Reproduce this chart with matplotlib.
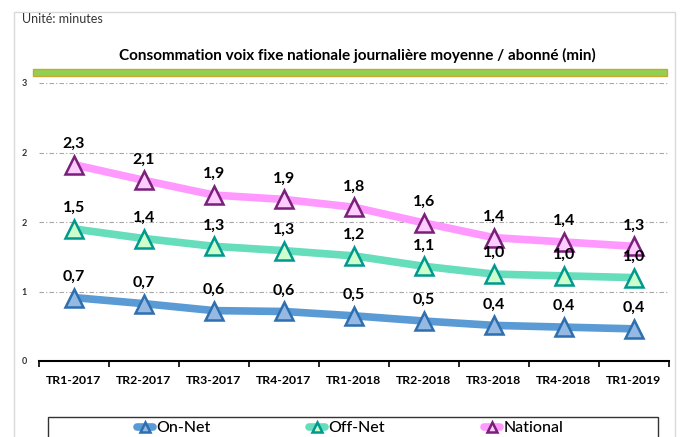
import numpy as np
import matplotlib
matplotlib.use("Agg")
import matplotlib.pyplot as plt
from matplotlib.patches import Rectangle

plt.rcParams['font.family'] = ['Lato', 'DejaVu Sans']

# =========================
# Data
# =========================
categories = ["TR1-2017", "TR2-2017", "TR3-2017", "TR4-2017", "TR1-2018",
              "TR2-2018", "TR3-2018", "TR4-2018", "TR1-2019"]
on_net = [0.73, 0.66, 0.58, 0.57, 0.52, 0.46, 0.41, 0.39, 0.37]
off_net = [1.52, 1.41, 1.32, 1.27, 1.21, 1.09, 1.00, 0.98, 0.96]
national = [2.26, 2.08, 1.91, 1.86, 1.77, 1.59, 1.42, 1.37, 1.32]
y_ticks = [0, 0.8, 1.6, 2.4, 3.2]

series = [
    ("On-Net", on_net, "#5B9BD5", "#95B9E3", "#2E6FB0"),
    ("Off-Net", off_net, "#66DDBB", "#CCFFCC", "#00998F"),
    ("National", national, "#FF99FF", "#FFCCFF", "#7A1F7A"),
]

W, H = 682, 437
fig = plt.figure(figsize=(W / 100, H / 100), dpi=100)

# outer frame, green banner, legend frame
fig.patches.append(Rectangle((14 / W, -0.05), 661 / W, 1 - 12 / H + 0.05,
                             transform=fig.transFigure, fill=False,
                             edgecolor="#D9D9D9", linewidth=1))
fig.patches.append(Rectangle((33 / W, 1 - 76 / H), 634 / W, 7 / H,
                             transform=fig.transFigure, facecolor="#92D050",
                             edgecolor="#C8A832", linewidth=1))
fig.patches.append(Rectangle((48 / W, -0.05), 610 / W, 1 - 417 / H + 0.05,
                             transform=fig.transFigure, fill=False,
                             edgecolor="#333333", linewidth=1))

fig.text(22 / W, 1 - 19 / H, "Unité: minutes", fontsize=9,
         color="#333333", va="center", ha="left")
fig.text(357 / W, 1 - 55 / H,
         "Consommation voix fixe nationale journalière moyenne / abonné (min)",
         fontsize=11, fontweight="bold", ha="center", va="center")

ax = fig.add_axes([39 / W, 1 - 361 / H, 630 / W, 278 / H])
x = np.arange(len(categories))

handles = []
for name, vals, lc, fc, ec in series:
    h, = ax.plot(x, vals, color=lc, linewidth=5.5, marker="^", markersize=13,
                 markerfacecolor=fc, markeredgecolor=ec, markeredgewidth=1.8,
                 solid_capstyle="round", zorder=3, label=name)
    handles.append(h)
    for xi, v in zip(x, vals):
        ax.annotate(f"{v:.1f}".replace(".", ","), (xi, v), xytext=(0, 15),
                    textcoords="offset points", ha="center", va="center",
                    fontsize=11.5, fontweight="bold", zorder=4)

ax.set_xlim(-0.5, len(categories) - 0.5)
ax.set_ylim(0, 3.2)
ax.set_yticks(y_ticks)
ax.set_yticklabels([f"{v:.0f}" for v in y_ticks], fontsize=6.5,
                   fontweight="bold", color="#333333")
ax.tick_params(axis="y", length=0, pad=9)
ax.yaxis.grid(True, color="#A6A6A6", linestyle=(0, (4, 2, 1, 2)), linewidth=0.8)
ax.set_axisbelow(True)

ax.set_xticks(x)
ax.set_xticklabels(categories, fontsize=8.8, fontweight="bold")
ax.set_xticks(np.arange(-0.5, len(categories)), minor=True)
ax.tick_params(axis="x", which="major", length=0, pad=10)
ax.tick_params(axis="x", which="minor", length=4, width=1.2, color="black",
               direction="out")

for s in ["top", "right", "left"]:
    ax.spines[s].set_visible(False)
ax.spines["bottom"].set_linewidth(1.5)

leg = fig.legend(handles=handles, loc="center",
                 bbox_to_anchor=(350 / W, 1 - 428 / H), ncol=3,
                 frameon=False, fontsize=11.5, handlelength=1.0,
                 handletextpad=0.2, columnspacing=6.2, borderpad=0.0,
                 borderaxespad=0, markerscale=0.6)
for t in leg.get_texts():
    t.set_fontweight("medium")

fig.savefig("out.png", dpi=100)
